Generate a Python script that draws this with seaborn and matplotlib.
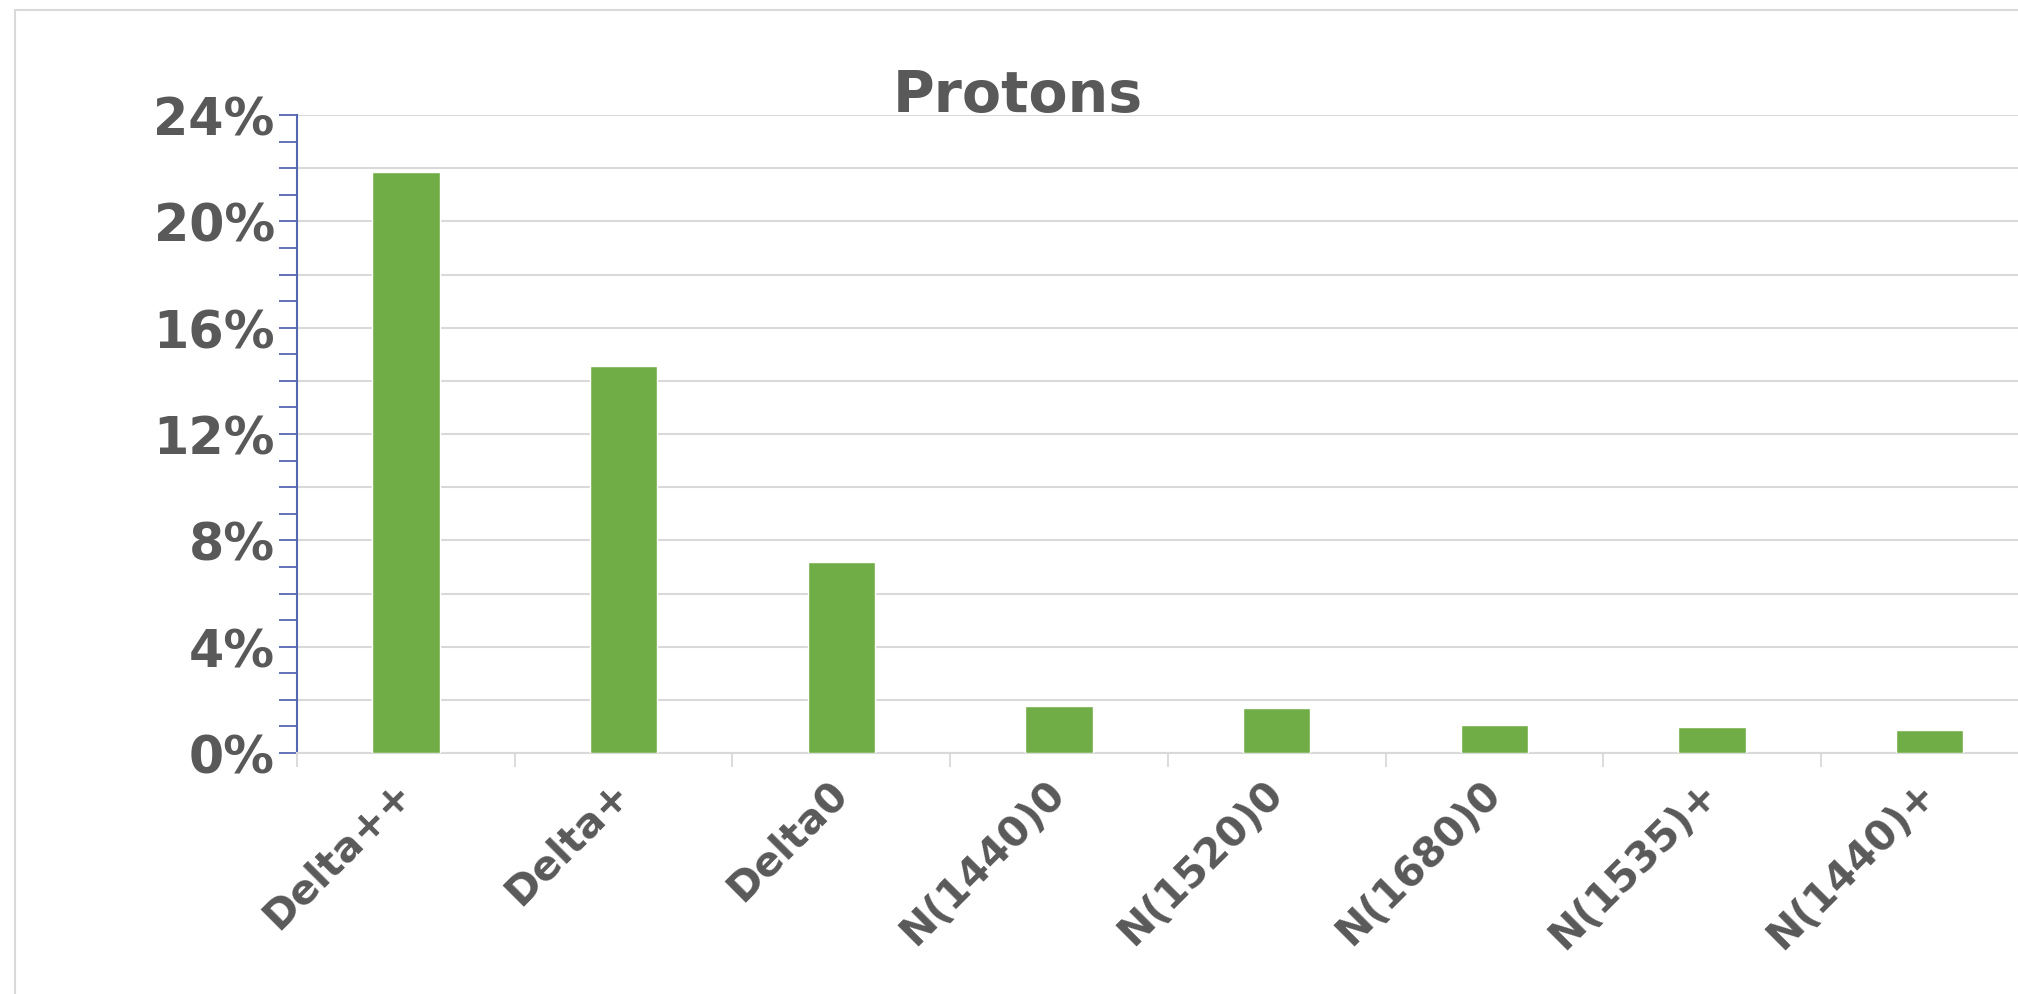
import matplotlib
matplotlib.use("Agg")
import matplotlib.pyplot as plt
from matplotlib.patches import Rectangle
from matplotlib.ticker import MultipleLocator, FuncFormatter, FixedLocator
import seaborn as sns
import pandas as pd

# Resonance shares for protons (percent)
categories = ["Delta++", "Delta+", "Delta0", "N(1440)0", "N(1520)0",
              "N(1680)0", "N(1535)+", "N(1440)+"]
shares = [21.85, 14.56, 7.19, 1.78, 1.68, 1.06, 0.97, 0.88]
title = "Protons"

sns.set_theme(style="white")
plt.rcParams["font.family"] = ["DejaVu Sans"]

TEXT = "#595959"
GREEN = "#70AD47"
GRID = "#d9d9d9"
SPINE = "#5567b0"

W, H = 2018, 995
fig = plt.figure(figsize=(W / 100, H / 100), dpi=100)
fig.patch.set_facecolor("white")

# outer chart frame
fig.patches.append(Rectangle((15 / W, -0.1), 1.2, 1 - 11 / H + 0.1,
                             transform=fig.transFigure, fill=False,
                             edgecolor=GRID, linewidth=1.5, zorder=0))

left, right = 297, 297 + 8 * 217.7
bottom, top = 754, 116
ax = fig.add_axes([left / W, 1 - bottom / H, (right - left) / W, (bottom - top) / H])

df = pd.DataFrame({"category": categories, "share": shares})
sns.barplot(data=df, x="category", y="share", color=GREEN, width=0.31,
            saturation=1, ax=ax, zorder=3)

ax.set_xlim(-0.5, len(categories) - 0.5)
ax.set_ylim(0, 24)
ax.set_xlabel("")
ax.set_ylabel("")

# y axis: gridlines every 2%, labels every 4%, ticks every 1%
ax.yaxis.set_major_locator(MultipleLocator(2))
ax.yaxis.set_minor_locator(MultipleLocator(1))
ax.yaxis.set_major_formatter(FuncFormatter(
    lambda v, _: f"{int(round(v))}%" if int(round(v)) % 4 == 0 else ""))
ax.grid(axis="y", which="major", color=GRID, linewidth=1.5, zorder=0)
ax.grid(axis="x", visible=False)
ax.tick_params(axis="y", which="both", direction="out", length=13, width=1.3,
               color=SPINE, pad=3, left=True)
for lab in ax.get_yticklabels():
    lab.set_fontsize(36.5)
    lab.set_fontweight("bold")
    lab.set_color(TEXT)

# x axis: boundary tick marks, labels at category centres
ax.xaxis.set_minor_locator(FixedLocator([i - 0.5 for i in range(len(categories) + 1)]))
ax.tick_params(axis="x", which="major", length=0, pad=24)
ax.tick_params(axis="x", which="minor", direction="out", length=10, width=1.3,
               color=GRID, bottom=True)
ax.set_xticks(range(len(categories)))
ax.set_xticklabels(categories, rotation=45, ha="right", va="center",
                   rotation_mode="anchor", fontsize=29.5, fontweight="bold", color=TEXT)

for side in ["top", "right"]:
    ax.spines[side].set_visible(False)
ax.spines["left"].set_color(SPINE)
ax.spines["left"].set_linewidth(1.5)
ax.spines["bottom"].set_color(GRID)
ax.spines["bottom"].set_linewidth(1.5)

fig.text(1018 / W, 1 - 112 / H, title, ha="center", va="baseline",
         fontsize=41, fontweight="bold", color=TEXT)

fig.savefig("out.png", dpi=100)
